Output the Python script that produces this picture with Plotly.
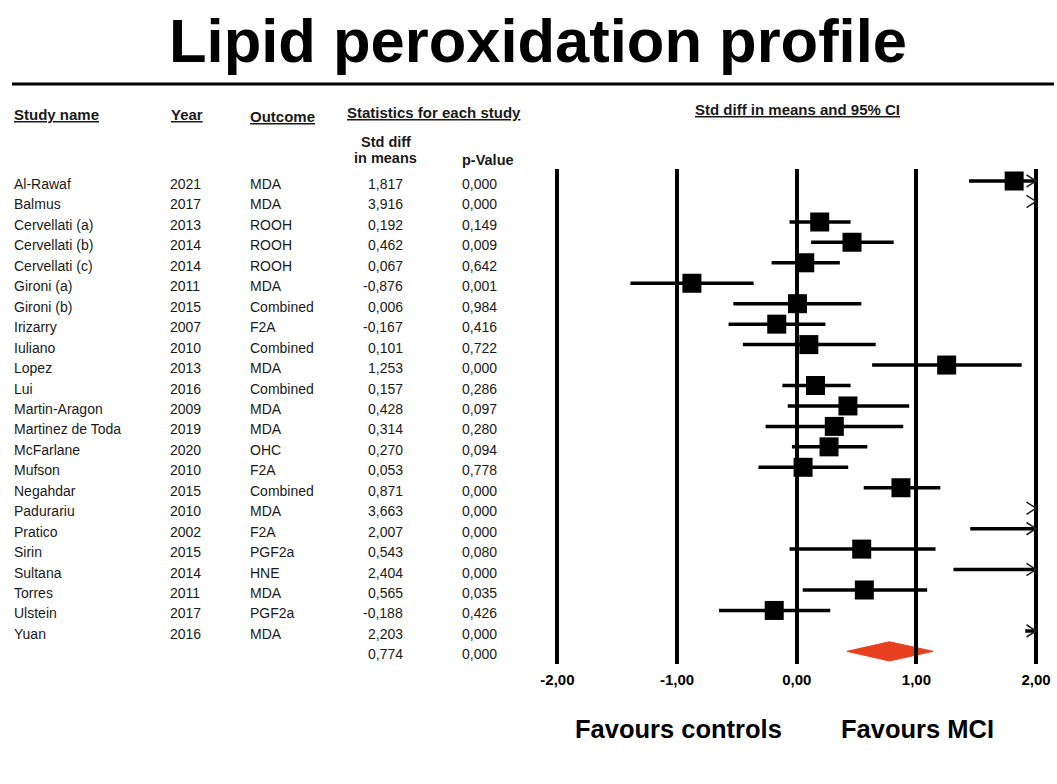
import plotly.graph_objects as go

W, H = 1057, 784

studies = ["Al-Rawaf", "Balmus", "Cervellati (a)", "Cervellati (b)", "Cervellati (c)",
           "Gironi (a)", "Gironi (b)", "Irizarry", "Iuliano", "Lopez", "Lui",
           "Martin-Aragon", "Martinez de Toda", "McFarlane", "Mufson", "Negahdar",
           "Padurariu", "Pratico", "Sirin", "Sultana", "Torres", "Ulstein", "Yuan"]
years = ["2021", "2017", "2013", "2014", "2014", "2011", "2015", "2007", "2010", "2013",
         "2016", "2009", "2019", "2020", "2010", "2015", "2010", "2002", "2015", "2014",
         "2011", "2017", "2016"]
outcomes = ["MDA", "MDA", "ROOH", "ROOH", "ROOH", "MDA", "Combined", "F2A", "Combined",
            "MDA", "Combined", "MDA", "MDA", "OHC", "F2A", "Combined", "MDA", "F2A",
            "PGF2a", "HNE", "MDA", "PGF2a", "MDA"]
smd = [1.817, 3.916, 0.192, 0.462, 0.067, -0.876, 0.006, -0.167, 0.101, 1.253, 0.157,
       0.428, 0.314, 0.270, 0.053, 0.871, 3.663, 2.007, 0.543, 2.404, 0.565, -0.188, 2.203]
pvals = ["0,000", "0,000", "0,149", "0,009", "0,642", "0,001", "0,984", "0,416", "0,722",
         "0,000", "0,286", "0,097", "0,280", "0,094", "0,778", "0,000", "0,000", "0,000",
         "0,080", "0,000", "0,035", "0,426", "0,000"]
ci_low = [1.44, 3.30, -0.06, 0.12, -0.21, -1.39, -0.53, -0.57, -0.45, 0.63, -0.12,
          -0.075, -0.26, -0.04, -0.32, 0.56, 3.00, 1.45, -0.06, 1.31, 0.05, -0.65, 1.91]
ci_high = [2.19, 4.53, 0.45, 0.81, 0.36, -0.36, 0.54, 0.24, 0.66, 1.88, 0.45,
           0.94, 0.89, 0.59, 0.43, 1.20, 4.33, 2.56, 1.16, 3.50, 1.09, 0.28, 2.50]
summary_smd = 0.774
summary_p = "0,000"
summary_low, summary_high = 0.42, 1.14

tick_vals = [-2, -1, 0, 1, 2]
tick_text = ["-2,00", "-1,00", "0,00", "1,00", "2,00"]
XMIN, XMAX = -2.0, 2.0

def fmt(v):
    return f"{v:.3f}".replace(".", ",")

def px(x):
    return x / W

def py(y):
    return 1 - y / H

rows = list(range(len(studies)))
sum_row = len(studies)

fig = go.Figure()

# CI lines (clipped to displayed scale)
lx, ly = [], []
for r, lo, hi in zip(rows, ci_low, ci_high):
    a, b = max(lo, XMIN), min(hi, XMAX)
    if a < b:
        lx += [a, b, None]
        ly += [r, r, None]
fig.add_trace(go.Scatter(x=lx, y=ly, mode="lines", line=dict(color="black", width=3.5),
                         hoverinfo="skip", showlegend=False))

# squares (only those inside the displayed scale)
sq_x = [v for v in smd if XMIN <= v <= XMAX]
sq_y = [r for r, v in zip(rows, smd) if XMIN <= v <= XMAX]
fig.add_trace(go.Scatter(x=sq_x, y=sq_y, mode="markers",
                         marker=dict(symbol="square", size=19, color="black"),
                         showlegend=False))

# arrows for CIs exceeding scale
ax, ay = [], []
for r, hi in zip(rows, ci_high):
    if hi > XMAX:
        ax += [XMAX - 0.08, XMAX, XMAX - 0.08, None]
        ay += [r - 0.3, r, r + 0.3, None]
fig.add_trace(go.Scatter(x=ax, y=ay, mode="lines", line=dict(color="#222", width=1.6),
                         hoverinfo="skip", showlegend=False, cliponaxis=False))

# summary diamond
h = 0.47
fig.add_shape(type="path", xref="x", yref="y", layer="below",
              path=f"M {summary_low},{sum_row} L {summary_smd},{sum_row - h} "
                   f"L {summary_high},{sum_row} L {summary_smd},{sum_row + h} Z",
              fillcolor="#e8401f", line=dict(color="#e8401f", width=1))

FONT = "Liberation Sans, Arial, sans-serif"
ann = []

def A(text, x, y, size=14, xanchor="left", yref="paper", bold=False, yshift=0, color="#1a1a1a"):
    t = f"<b>{text}</b>" if bold else text
    ann.append(dict(text=t, x=x, y=y, xref="paper", yref=yref, xanchor=xanchor,
                    yanchor="middle", showarrow=False, yshift=yshift,
                    font=dict(family=FONT, size=size, color=color)))

# title
A("Lipid peroxidation profile", px(540), py(41), size=61.5, xanchor="center", bold=True, color="black")

# headers
A("<u>Study name</u>", px(12), py(114), size=15, bold=True)
A("<u>Year</u>", px(169), py(114), size=15, bold=True)
A("<u>Outcome</u>", px(249), py(116), size=15, bold=True)
A("<u>Statistics for each study</u>", px(435), py(113), size=15, bold=True, xanchor="center")
A("Std diff", px(387), py(142), size=14.5, bold=True, xanchor="center")
A("in means", px(387), py(158), size=14.5, bold=True, xanchor="center")
A("p-Value", px(461), py(160), size=14.5, bold=True)
A("<u>Std diff in means and 95% CI</u>", px(800), py(109), size=15, bold=True, xanchor="center")

# table rows
TS = -3
for r, s, yr, oc, v, p in zip(rows, studies, years, outcomes, smd, pvals):
    A(s, px(12), r, yref="y", yshift=TS)
    A(yr, px(168), r, yref="y", yshift=TS)
    A(oc, px(249), r, yref="y", yshift=TS)
    A(fmt(v), px(406), r, yref="y", xanchor="right", yshift=TS)
    A(p, px(461), r, yref="y", yshift=TS)
A(fmt(summary_smd), px(406), sum_row, yref="y", xanchor="right", yshift=TS)
A(summary_p, px(461), sum_row, yref="y", yshift=TS)

# favours labels
A("Favours controls", px(680), py(729), size=25.5, bold=True, xanchor="center", color="black")
A("Favours MCI", px(920), py(729), size=25.5, bold=True, xanchor="center", color="black")

# rule under title
fig.add_shape(type="line", xref="paper", yref="paper", x0=px(12), x1=1, y0=py(84), y1=py(84),
              line=dict(color="black", width=3))

row_px0, row_step = 181, 20.45
top_px, bot_px = 169, 664
y_top = (top_px - row_px0) / row_step
y_bot = (bot_px - row_px0) / row_step

fig.update_layout(
    width=W, height=H, margin=dict(l=0, r=0, t=0, b=0),
    paper_bgcolor="white", plot_bgcolor="white",
    annotations=ann,
    xaxis=dict(domain=[541 / W, 1051 / W], range=[-2.15, 2.1],
               tickvals=tick_vals, ticktext=[f"<b>{t}</b>" for t in tick_text],
               tickfont=dict(family=FONT, size=15, color="black"),
               showgrid=True, gridcolor="black", gridwidth=3.5,
               zeroline=False, showline=False, ticks="", ticklabelstandoff=5),
    yaxis=dict(domain=[1 - bot_px / H, 1 - top_px / H], range=[y_bot, y_top],
               showgrid=False, zeroline=False, showticklabels=False, showline=False),
    font=dict(family=FONT),
)

fig.write_html("out.html", config={"displayModeBar": False},
               post_script="document.body.style.margin='0px';")
